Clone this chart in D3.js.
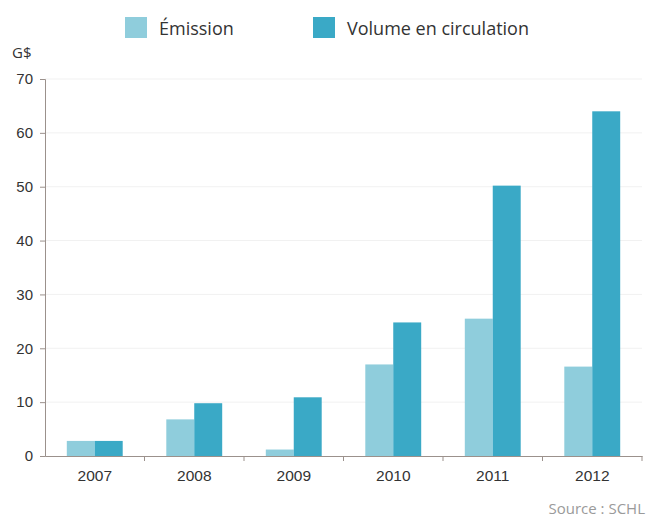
<!DOCTYPE html>
<html>
<head>
<meta charset="utf-8">
<script src="https://cdn.jsdelivr.net/npm/d3@7"></script>
<style>
  html, body { margin: 0; padding: 0; background: #fff; }
  svg { display: block; font-family: "Open Sans", "DejaVu Sans", sans-serif; }
</style>
</head>
<body>
<svg id="chart" width="649" height="521"></svg>
<script>
// Data (G$)
const years = ["2007", "2008", "2009", "2010", "2011", "2012"];
const emission = [2.8, 6.8, 1.2, 17.0, 25.5, 16.6];
const volume = [2.8, 9.8, 10.9, 24.8, 50.2, 64.0];
const seriesNames = ["Émission", "Volume en circulation"];
const seriesColors = ["#8fcddc", "#3aa9c6"];
const yTicks = [0, 10, 20, 30, 40, 50, 60, 70];

const svg = d3.select("#chart");
const margin = { left: 45, right: 7, top: 79, bottom: 65 };
const W = 649, H = 521;

const x = d3.scaleBand().domain(years).range([margin.left, W - margin.right]).paddingInner(0).paddingOuter(0);
const inner = d3.scaleBand().domain([0, 1]).range([0, x.bandwidth()]).paddingInner(0).paddingOuter(0.78);
const y = d3.scaleLinear().domain([0, 70]).range([H - margin.bottom, margin.top]);

// Gridlines
svg.append("g")
  .selectAll("line").data(yTicks.slice(1)).join("line")
  .attr("x1", margin.left).attr("x2", W - margin.right)
  .attr("y1", d => y(d)).attr("y2", d => y(d))
  .attr("stroke", "#f1f1f1").attr("stroke-width", 1);

// Bars
const table = years.map((yr, i) => ({ year: yr, values: [emission[i], volume[i]] }));
const groups = svg.append("g").selectAll("g").data(table).join("g")
  .attr("transform", d => `translate(${x(d.year)},0)`);
groups.selectAll("rect").data(d => d.values.map((v, k) => ({ v, k }))).join("rect")
  .attr("x", d => inner(d.k))
  .attr("width", inner.bandwidth())
  .attr("y", d => y(d.v))
  .attr("height", d => y(0) - y(d.v))
  .attr("fill", d => seriesColors[d.k]);

// Y axis
const yAxis = svg.append("g")
  .attr("transform", `translate(${margin.left},0)`)
  .call(d3.axisLeft(y).tickValues(yTicks).tickSize(5).tickPadding(7));
yAxis.select(".domain").attr("stroke", "#9b918c");
yAxis.selectAll(".tick line").attr("stroke", "#9b918c");
yAxis.selectAll(".tick text").attr("fill", "#333").attr("font-size", "15px");

// X axis
const xAxis = svg.append("g")
  .attr("transform", `translate(0,${y(0)})`)
  .call(d3.axisBottom(x).tickSize(0).tickPadding(14));
xAxis.select(".domain").attr("stroke", "#9b918c");
xAxis.selectAll(".tick text").attr("fill", "#333").attr("font-size", "15.5px");
// Category separators
svg.append("g").selectAll("line").data(years).join("line")
  .attr("x1", d => x(d) + x.bandwidth())
  .attr("x2", d => x(d) + x.bandwidth())
  .attr("y1", y(0)).attr("y2", y(0) + 5)
  .attr("stroke", "#9b918c");

// Unit label
svg.append("text").attr("x", 12).attr("y", 58).text("G$")
  .attr("font-size", "15px").attr("fill", "#333");

// Legend
const legendX = [125, 313];
const lg = svg.append("g").selectAll("g").data(seriesNames).join("g")
  .attr("transform", (d, i) => `translate(${legendX[i]},17)`);
lg.append("rect").attr("width", 22).attr("height", 21).attr("fill", (d, i) => seriesColors[i]);
lg.append("text").attr("x", 34).attr("y", 18).text(d => d)
  .attr("font-size", "18px").attr("fill", "#333");

// Source
svg.append("text").attr("x", 645).attr("y", 514).attr("text-anchor", "end")
  .text("Source : SCHL").attr("font-size", "15px").attr("fill", "#9a9a9a");
</script>
</body>
</html>
